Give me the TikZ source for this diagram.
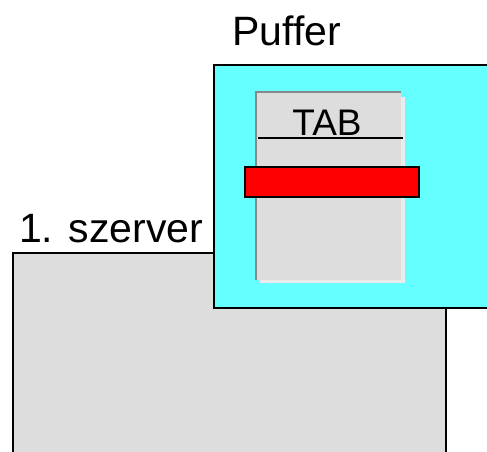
\documentclass[tikz,border=0pt]{standalone}
\usepackage{fontspec}
\setmainfont{Liberation Sans}
\definecolor{srvgray}{HTML}{DDDDDD}
\definecolor{bufcyan}{HTML}{66FFFF}
\definecolor{pageedge}{HTML}{888888}
\definecolor{pageshadow}{HTML}{EBEBEB}
\begin{document}
\begin{tikzpicture}[x=1pt,y=-1pt,
  box/.style={draw=black,line width=2pt},
  lbl/.style={inner sep=0pt,anchor=base west,font=\fontsize{41}{41}\selectfont}]
\useasboundingbox (0,0) rectangle (487,451);
% server
\fill[srvgray] (13,253) rectangle (446,460);
\draw[line width=2.2pt] (13,460) -- (13,253) -- (446,253) -- (446,460);
\node[lbl] (srv) at (19,242) {1. szerver};
% buffer
\fill[bufcyan] (214,65) rectangle (495,308);
\draw[line width=2.2pt] (495,65) -- (214,65) -- (214,308) -- (495,308);
\node[lbl] (puf) at (232,45) {Puffer};
% page with shadow
\fill[pageshadow] (260,97) rectangle (405,283);
\fill[srvgray] (256,92) rectangle (401,280);
\draw[pageedge,line width=1.5pt] (256,280) -- (256,92) -- (401,92);
\node[inner sep=0pt,anchor=base,font=\fontsize{37}{37}\selectfont] (tab) at (327,135) {TAB};
\draw[line width=2pt] (258,137.5) -- (403,137.5);
% red bar
\node[box,fill=red,minimum width=174pt,minimum height=30pt,inner sep=0pt,anchor=north west] (bar) at (244,166) {};
\end{tikzpicture}
\end{document}
